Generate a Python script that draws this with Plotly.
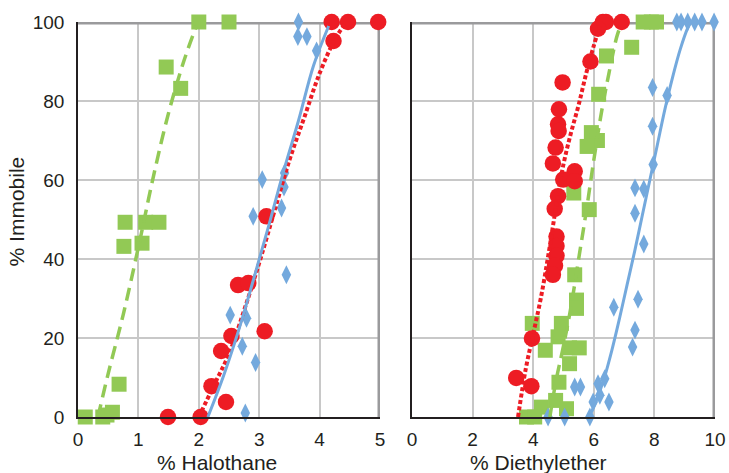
import plotly.graph_objects as go

# ---------------- Data: % Halothane panel ----------------
hal_green_x = [2.0, 2.5, 1.46, 1.70, 0.78, 1.12, 1.34, 0.76, 1.06, 0.68, 0.12, 0.41, 0.48, 0.57]
hal_green_y = [100, 100, 88.6, 83.2, 49.3, 49.3, 49.3, 43.2, 44.0, 8.3, 0, 0, 0.5, 1.2]

hal_red_x = [4.20, 4.47, 4.97, 4.23, 3.12, 2.65, 2.82, 3.09, 2.54, 2.37, 2.21, 2.45, 2.03, 1.49]
hal_red_y = [100, 100, 100, 95.2, 50.8, 33.4, 33.9, 21.7, 20.5, 16.7, 7.8, 3.8, 0, 0]

hal_blue_x = [3.65, 3.64, 3.79, 3.95, 3.05, 3.42, 3.41, 3.37, 2.90, 3.45, 2.52, 2.79, 2.72, 2.94, 2.77]
hal_blue_y = [100, 96.3, 96.3, 92.7, 60.1, 61.8, 58.2, 52.9, 50.8, 36.0, 25.8, 25.0, 17.9, 13.8, 1.0]

hal_green_fit_x = [0.33, 0.5, 0.75, 1.0, 1.25, 1.5, 1.75, 1.96]
hal_green_fit_y = [0, 11, 26, 43, 61, 77, 90, 99]

hal_red_fit_x = [2.0, 2.25, 2.5, 2.75, 3.0, 3.25, 3.5, 3.75, 4.0, 4.25, 4.42]
hal_red_fit_y = [0, 8, 16, 27, 39, 52, 65, 76, 87, 95.5, 99.5]

hal_blue_fit_x = [2.15, 2.4, 2.65, 2.9, 3.15, 3.4, 3.65, 3.9, 4.15]
hal_blue_fit_y = [0, 10, 21.5, 34.5, 48, 62, 75, 89, 99]

# ---------------- Data: % Diethylether panel ----------------
eth_green_x = [7.63, 7.9, 8.07, 7.25, 6.42, 6.16, 5.92, 6.12, 5.78, 5.34, 5.85,
               5.37, 5.43, 5.43, 3.97, 4.93, 4.82, 4.40, 5.20, 5.52, 5.20, 4.85,
               4.74, 5.10, 4.27, 3.78, 4.05]
eth_green_y = [100, 100, 100, 93.6, 91.4, 81.7, 72, 70, 68.5, 56.7, 52.5,
               36, 29.6, 27.5, 23.7, 23.7, 20.3, 16.9, 17.5, 17.5, 13.5, 8.8,
               4.2, 2.1, 2.5, 0, 0]

eth_red_x = [6.30, 6.40, 6.14, 6.92, 5.89, 4.97, 4.85, 4.82, 4.84, 4.74, 4.65,
             5.37, 4.99, 5.37, 4.82, 4.71, 4.77, 4.77, 4.77, 4.72, 4.65, 3.96,
             3.44, 3.94]
eth_red_y = [100, 100, 98.3, 100, 90, 84.7, 77.9, 74.1, 72.4, 68.2, 64.2,
             62.2, 60.1, 59.7, 55.9, 52.7, 45.7, 43.3, 40.8, 38.3, 36, 19.9,
             9.9, 7.8]

eth_blue_x = [8.74, 8.88, 9.1, 9.33, 9.57, 9.97, 7.94, 8.42, 7.94, 7.96, 7.36,
              7.65, 7.36, 7.65, 7.46, 6.66, 7.36, 7.28, 5.37, 5.56, 6.36, 6.14,
              6.20, 5.98, 6.50, 5.04, 5.87, 4.49]
eth_blue_y = [100, 100, 100, 100, 100, 100, 83.4, 81.4, 73.6, 63.9, 58,
              57.7, 51.6, 43.8, 29.8, 27.8, 22, 17.7, 7.6, 7.6, 9.7, 8.4,
              5.5, 3.8, 3.8, 0, 0, 0]

eth_green_fit_x = [4.55, 4.75, 5.0, 5.25, 5.5, 5.75, 6.0, 6.25, 6.5, 6.75, 6.9]
eth_green_fit_y = [0, 9, 18, 28, 40, 52, 65, 77, 87, 96, 99.5]

eth_red_fit_x = [3.5, 3.75, 4.0, 4.25, 4.5, 4.75, 5.0, 5.25, 5.5, 5.75, 6.0, 6.2]
eth_red_fit_y = [0, 12, 21, 30, 41, 53, 64, 72, 79, 87, 94, 99]

eth_blue_fit_x = [5.85, 6.1, 6.35, 6.6, 6.85, 7.1, 7.35, 7.6, 7.85, 8.1, 8.35, 8.6, 8.85, 9.1, 9.2]
eth_blue_fit_y = [0, 4.5, 10, 17, 25, 33.5, 42, 51, 60, 69, 78, 86, 93, 98.5, 100]

y_ticks = [0, 20, 40, 60, 80, 100]
hal_ticks = [0, 1, 2, 3, 4, 5]
eth_ticks = [0, 2, 4, 6, 8, 10]

# ---------------- Styles ----------------
GREEN = '#92C955'
RED = '#ED1C24'
BLUE = '#74A9DD'
GRID = '#C8C8C8'
FRAME = '#9A9A9C'
TEXT = '#231F20'
FONT = 'Liberation Sans, Arial, sans-serif'

fig = go.Figure()


def add_panel(xa, ya, gx, gy, rx, ry, bx, by, gfx, gfy, rfx, rfy, bfx, bfy):
    common = dict(xaxis=xa, yaxis=ya, showlegend=False, cliponaxis=False, hoverinfo='skip')
    fig.add_trace(go.Scatter(x=gx, y=gy, mode='markers',
                             marker=dict(symbol='square', size=15, color=GREEN, line=dict(width=0)), **common))
    fig.add_trace(go.Scatter(x=rx, y=ry, mode='markers',
                             marker=dict(symbol='circle', size=16.5, color=RED, line=dict(width=0)), **common))
    fig.add_trace(go.Scatter(x=bx, y=by, mode='markers',
                             marker=dict(symbol='diamond-tall', size=13.5, color=BLUE, line=dict(width=0)), **common))
    fig.add_trace(go.Scatter(x=gfx, y=gfy, mode='lines',
                             line=dict(color=GREEN, width=3.5, dash='13px,7px', shape='spline'), **common))
    fig.add_trace(go.Scatter(x=rfx, y=rfy, mode='lines',
                             line=dict(color=RED, width=4, dash='4px,2.5px', shape='spline'), **common))
    fig.add_trace(go.Scatter(x=bfx, y=bfy, mode='lines',
                             line=dict(color=BLUE, width=3, shape='spline'), **common))


add_panel('x', 'y', hal_green_x, hal_green_y, hal_red_x, hal_red_y, hal_blue_x, hal_blue_y,
          hal_green_fit_x, hal_green_fit_y, hal_red_fit_x, hal_red_fit_y, hal_blue_fit_x, hal_blue_fit_y)
add_panel('x2', 'y2', eth_green_x, eth_green_y, eth_red_x, eth_red_y, eth_blue_x, eth_blue_y,
          eth_green_fit_x, eth_green_fit_y, eth_red_fit_x, eth_red_fit_y, eth_blue_fit_x, eth_blue_fit_y)

axis_common = dict(showline=True, linecolor=TEXT, linewidth=1.5, zeroline=False,
                   showgrid=True, gridcolor=GRID, gridwidth=1.5, ticks='', automargin=False,
                   tickfont=dict(family=FONT, size=19, color=TEXT), fixedrange=True)

fig.update_layout(
    width=729, height=473, autosize=False,
    margin=dict(l=78, r=14, t=22, b=56, autoexpand=False),
    plot_bgcolor='white', paper_bgcolor='white',
    xaxis=dict(domain=[0, 0.4741], range=[0, 5], tickvals=hal_ticks, anchor='y',
               ticklabelstandoff=4, **axis_common),
    xaxis2=dict(domain=[0.5243, 1], range=[0, 10], tickvals=eth_ticks, anchor='y2',
                ticklabelstandoff=4, **axis_common),
    yaxis=dict(domain=[0, 1], range=[0, 100], tickvals=y_ticks, anchor='x',
               ticklabelstandoff=8, **axis_common),
    yaxis2=dict(domain=[0, 1], range=[0, 100], tickvals=y_ticks, anchor='x2',
                showticklabels=False, **axis_common),
    shapes=[
        dict(type='path', path='M 0,100 L 5,100 L 5,0', xref='x', yref='y',
             line=dict(color=FRAME, width=5), layer='between'),
        dict(type='path', path='M 0,100 L 10,100 L 10,0', xref='x2', yref='y2',
             line=dict(color=FRAME, width=5), layer='between'),
    ],
    annotations=[
        dict(text='% Immobile', x=-0.096, y=0.52, xref='paper', yref='paper', textangle=-90,
             showarrow=False, xanchor='center', yanchor='middle',
             font=dict(family=FONT, size=21, color=TEXT)),
        dict(text='% Halothane', x=0.218, y=-0.114, xref='paper', yref='paper',
             showarrow=False, xanchor='center', yanchor='middle',
             font=dict(family=FONT, size=21, color=TEXT)),
        dict(text='% Diethylether', x=0.7237, y=-0.114, xref='paper', yref='paper',
             showarrow=False, xanchor='center', yanchor='middle',
             font=dict(family=FONT, size=21, color=TEXT)),
    ],
)

post = (
    "document.body.style.margin='0px';"
    "document.body.style.overflow='hidden';"
    "var gd=document.getElementById('{plot_id}');"
    "Plotly.relayout(gd,{width:729,height:473,autosize:false});"
)

fig.write_html('out.html', config={'displayModeBar': False, 'responsive': False},
               post_script=post)
